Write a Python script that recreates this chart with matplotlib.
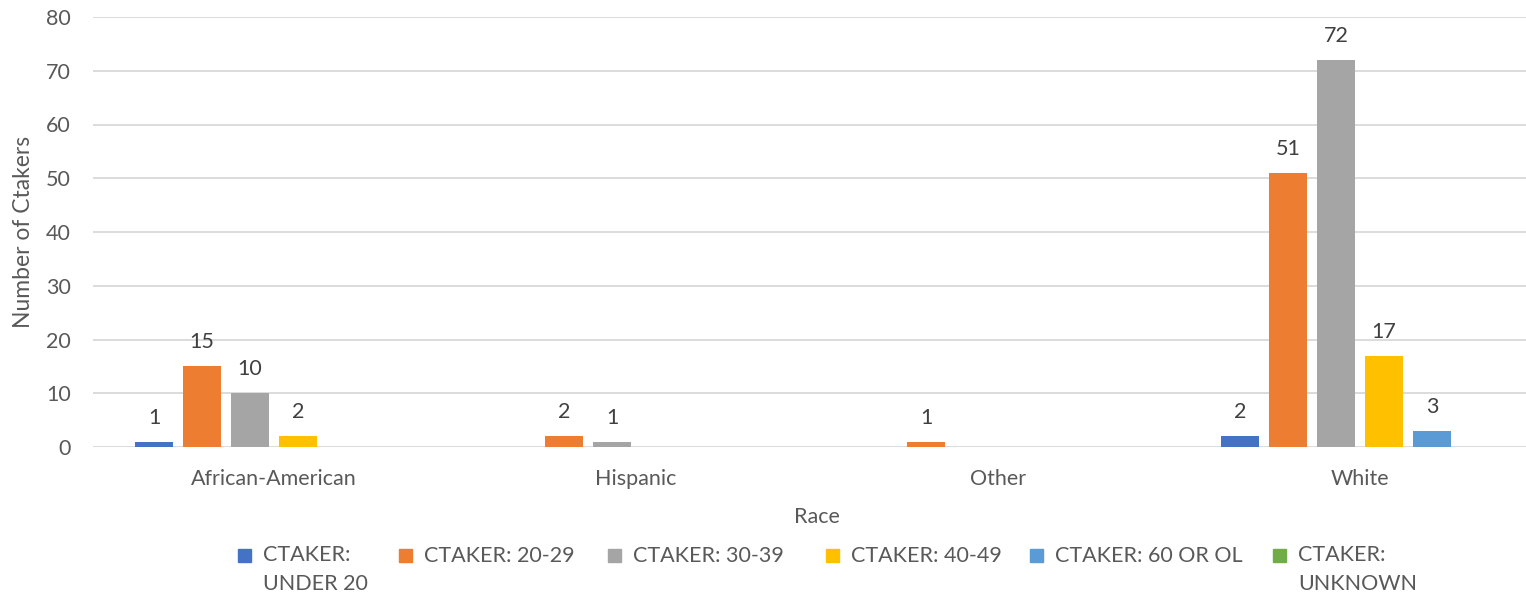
import matplotlib
matplotlib.use("Agg")
import matplotlib.pyplot as plt
from matplotlib.patches import Rectangle
import numpy as np

categories = ["African-American", "Hispanic", "Other", "White"]
series_names = ["CTAKER:\nUNDER 20", "CTAKER: 20-29", "CTAKER: 30-39",
                "CTAKER: 40-49", "CTAKER: 60 OR OL", "CTAKER:\nUNKNOWN"]
under_20 = [1, 0, 0, 2]
age_20_29 = [15, 2, 1, 51]
age_30_39 = [10, 1, 0, 72]
age_40_49 = [2, 0, 0, 17]
age_60_or_ol = [0, 0, 0, 3]
unknown = [0, 0, 0, 0]
yticks = [0, 10, 20, 30, 40, 50, 60, 70, 80]

series = [under_20, age_20_29, age_30_39, age_40_49, age_60_or_ol, unknown]
colors = ["#4472C4", "#ED7D31", "#A5A5A5", "#FFC000", "#5B9BD5", "#70AD47"]

plt.rcParams['font.family'] = ['Lato', 'DejaVu Sans']
FS = 15.5
W, H = 1526, 595
fig = plt.figure(figsize=(W / 100, H / 100), dpi=100)
ax = fig.add_axes([93 / W, 148 / H, 1448 / W, 430 / H])

x = np.arange(len(categories))
step = 48 / 362
bw = 38 / 362
for i, (vals, c) in enumerate(zip(series, colors)):
    pos = x + (i - 2.5) * step
    bars = ax.bar(pos, vals, width=bw, color=c, zorder=3)
    for b, v in zip(bars, vals):
        if v:
            ax.annotate(str(v), (b.get_x() + b.get_width() / 2, v),
                        xytext=(0, 13), textcoords="offset points",
                        ha="center", va="baseline", fontsize=FS, color="#404040")

ax.set_xlim(-0.5, len(categories) - 0.5)
ax.set_ylim(0, 80)
ax.set_yticks(yticks)
ax.set_xticks(x)
ax.set_xticklabels(categories)
ax.grid(axis="y", color="#D9D9D9", linewidth=1.3, zorder=0)
for s in ax.spines.values():
    s.set_visible(False)
ax.tick_params(axis="both", length=0, labelsize=FS, labelcolor="#595959")
ax.tick_params(axis="y", pad=16)
ax.tick_params(axis="x", pad=16)
ax.set_xlabel("Race", fontsize=FS, color="#595959", va="center")
ax.set_ylabel("Number of Ctakers", fontsize=16.5, color="#595959", va="center")
ax.yaxis.set_label_coords((24 - 93) / 1448, 0.5)
ax.xaxis.set_label_coords(0.5, (447 - 517) / 430)

# legend (manual layout to match wrapped entries)
leg_x = [238, 399, 608, 826, 1030, 1273]
for lx, name, c in zip(leg_x, series_names, colors):
    fig.patches.append(Rectangle((lx / W, (H - 562) / H), 13 / W, 13 / H,
                                 transform=fig.transFigure, color=c))
    if "\n" in name:
        fig.text((lx + 25) / W, (H - 545) / H, name, fontsize=FS, color="#595959",
                 ha="left", va="top", linespacing=1.55)
    else:
        fig.text((lx + 25) / W, (H - 555.5) / H, name, fontsize=FS, color="#595959",
                 ha="left", va="center")

fig.savefig("out.png", dpi=100)
